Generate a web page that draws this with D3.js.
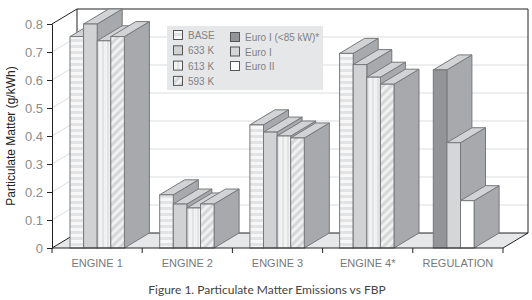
<!DOCTYPE html>
<html>
<head>
<meta charset="utf-8">
<script src="https://cdn.jsdelivr.net/npm/d3@7"></script>
<style>
body { margin: 0; background: #fff; }
text { font-family: "Liberation Sans", sans-serif; }
</style>
</head>
<body>
<div id="chart"></div>
<script>
var categories = ['ENGINE 1', 'ENGINE 2', 'ENGINE 3', 'ENGINE 4*', 'REGULATION'];
var engineSeries = ['BASE', '633 K', '613 K', '593 K'];
var regulationSeries = ['Euro I (<85 kW)*', 'Euro I', 'Euro II'];
var engine1 = [0.755, 0.8, 0.74, 0.755];
var engine2 = [0.19, 0.157, 0.143, 0.157];
var engine3 = [0.44, 0.414, 0.4, 0.393];
var engine4 = [0.695, 0.655, 0.61, 0.585];
var regulation = [0.636, 0.376, 0.169];
var yTicks = [0, 0.1, 0.2, 0.3, 0.4, 0.5, 0.6, 0.7, 0.8];

var groups = [engine1, engine2, engine3, engine4, regulation];
var fills = {
    'BASE': 'url(#hstripe)', '633 K': '#d0d2d4', '613 K': 'url(#vstripe)', '593 K': 'url(#diag)',
    'Euro I (<85 kW)*': '#929497', 'Euro I': '#d4d6d8', 'Euro II': '#fff'
};

var width = 532, height = 300;
var depthX = 25, depthY = 15;

var svg = d3.select('#chart').append('svg')
    .attr('width', width)
    .attr('height', height)
    .style('display', 'block');

var defs = svg.append('defs');
var hs = defs.append('pattern').attr('id', 'hstripe').attr('patternUnits', 'userSpaceOnUse').attr('width', 4).attr('height', 6);
hs.append('rect').attr('width', 4).attr('height', 6).attr('fill', '#f7f7f7');
hs.append('rect').attr('y', 3).attr('width', 4).attr('height', 3).attr('fill', '#e2e3e4');
var vs = defs.append('pattern').attr('id', 'vstripe').attr('patternUnits', 'userSpaceOnUse').attr('width', 5).attr('height', 4);
vs.append('rect').attr('width', 5).attr('height', 4).attr('fill', '#f2f2f2');
vs.append('rect').attr('x', 2).attr('width', 2).attr('height', 4).attr('fill', '#e2e3e4');
var dg = defs.append('pattern').attr('id', 'diag').attr('patternUnits', 'userSpaceOnUse').attr('width', 6).attr('height', 6)
    .attr('patternTransform', 'rotate(45)');
dg.append('rect').attr('width', 6).attr('height', 6).attr('fill', '#f1f1f2');
dg.append('rect').attr('width', 3).attr('height', 6).attr('fill', '#d6d7d9');

var x = d3.scaleBand().domain(categories).range([52, 503]);
var y = d3.scaleLinear().domain([0, 0.8]).range([248, 24]);
var barW = 13.6;

// back wall and grid
var x0 = x.range()[0], x1 = x.range()[1];
svg.selectAll('.wallgrid').data(yTicks.slice(1, -1)).enter().append('path')
    .attr('d', d => `M${x0},${y(d)}L${x0 + depthX},${y(d) - depthY}L${x1 + depthX},${y(d) - depthY}`)
    .attr('fill', 'none').attr('stroke', '#dcdddd').attr('stroke-width', 1);

svg.append('path')
    .attr('d', `M${x0},${y(0)}L${x0 + depthX},${y(0) - depthY}L${x1 + depthX},${y(0) - depthY}L${x1},${y(0)}Z`)
    .attr('fill', '#e6e7e8');

svg.append('path')
    .attr('d', `M${x0},${y(0)}L${x0 + depthX},${y(0) - depthY}L${x1 + depthX},${y(0) - depthY}L${x1},${y(0)}`)
    .attr('fill', 'none').attr('stroke', '#222').attr('stroke-width', 1);
svg.append('path')
    .attr('d', `M${x0},${y(0.8)}L${x0 + depthX},${y(0.8) - depthY}L${x1 + depthX},${y(0.8) - depthY}L${x1 + depthX},${y(0) - depthY}M${x0 + depthX},${y(0.8) - depthY}L${x0 + depthX},${y(0) - depthY}`)
    .attr('fill', 'none').attr('stroke', '#222').attr('stroke-width', 1);

// legend sits on the wall, behind the bars
var legend = svg.append('g');
legend.append('rect').attr('x', 167).attr('y', 26).attr('width', 156).attr('height', 64).attr('fill', '#e6e7e8');
function legendCol(names, lx, top, step) {
    names.forEach((n, i) => {
        var ly = top + i * step;
        legend.append('rect').attr('x', lx + 0.5).attr('y', ly - 4.5).attr('width', 9).attr('height', 9)
            .attr('fill', fills[n]).attr('stroke', '#555').attr('stroke-width', 1);
        legend.append('text').attr('x', lx + 15).attr('y', ly + 4)
            .attr('font-size', 10).attr('fill', '#808285').text(n);
    });
}
legendCol(engineSeries, 173, 35, 15.3);
legendCol(regulationSeries, 230, 37, 14.5);

// bars, left to right so each bar hides the side face of the one before it
var starts = [18, 17.5, 17.5, 17, 20.5];
categories.forEach((cat, gi) => {
    var names = gi < 4 ? engineSeries : regulationSeries;
    var gx = x(cat) + starts[gi];
    var g = svg.append('g');
    names.forEach((name, i) => {
        var v = groups[gi][i];
        var l = gx + i * barW, r = l + barW;
        var t = y(v), b = y(0);
        g.append('path')
            .attr('d', `M${r},${b}L${r + depthX},${b - depthY}L${r + depthX},${t - depthY}L${r},${t}Z`)
            .attr('fill', '#a7a9ac').attr('stroke', '#77787b').attr('stroke-width', 1);
        g.append('path')
            .attr('d', `M${l},${t}L${l + depthX},${t - depthY}L${r + depthX},${t - depthY}L${r},${t}Z`)
            .attr('fill', '#d1d3d4').attr('stroke', '#77787b').attr('stroke-width', 1);
        g.append('rect')
            .attr('x', l).attr('y', t).attr('width', barW).attr('height', b - t)
            .attr('fill', fills[name]).attr('stroke', '#77787b').attr('stroke-width', 1);
    });
});

// axes
var yAxis = d3.axisLeft(y).tickValues(yTicks).tickSize(5).tickPadding(4)
    .tickFormat(d => d === 0 ? '0' : d3.format('.1f')(d));
var gy = svg.append('g').attr('transform', `translate(${x0},0)`).call(yAxis);
gy.selectAll('.domain,line').attr('stroke', '#222');
gy.selectAll('text').attr('font-size', 13).attr('fill', '#8a8c8e').style('font-family', '"Liberation Sans", sans-serif');

var xAxis = d3.axisBottom(x).tickSize(0).tickPadding(11);
var gx = svg.append('g').attr('transform', `translate(0,${y(0)})`).call(xAxis);
gx.select('.domain').attr('stroke', '#222').attr('d', `M${x0},0H${x1}`);
gx.selectAll('text').attr('font-size', 11).attr('fill', '#77787b').style('font-family', '"Liberation Sans", sans-serif');
gx.selectAll('.sep').data(d3.range(categories.length + 1)).enter().append('line')
    .attr('x1', d => x0 + d * x.step()).attr('x2', d => x0 + d * x.step())
    .attr('y1', 0).attr('y2', 5).attr('stroke', '#222');

svg.append('text')
    .attr('transform', 'translate(15,136) rotate(-90)')
    .attr('text-anchor', 'middle').attr('font-size', 12).attr('fill', '#222')
    .text('Particulate Matter (g/kWh)');

svg.append('text')
    .attr('x', 267).attr('y', 294).attr('text-anchor', 'middle')
    .style('font-family', 'Lato, sans-serif').attr('font-size', 12).attr('fill', '#444')
    .text('Figure 1. Particulate Matter Emissions vs FBP');
</script>
</body>
</html>
